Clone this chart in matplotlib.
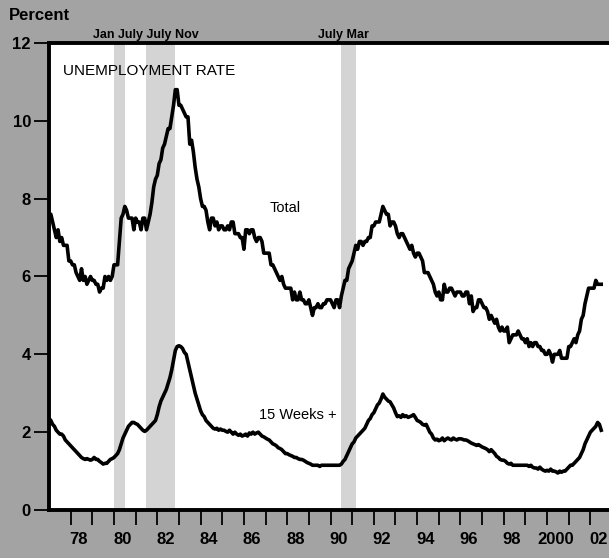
import numpy as np
import matplotlib
matplotlib.use('Agg')
import matplotlib.pyplot as plt

plt.rcParams['font.family'] = ['Liberation Sans', 'DejaVu Sans']

# Monthly unemployment rate, Jan 1977 - Jul 2002 (percent)
total = [
    7.5, 7.6, 7.4, 7.2, 7.0, 7.2, 6.9, 7.0, 6.8, 6.8, 6.8, 6.4,   # 1977
    6.4, 6.3, 6.3, 6.1, 6.0, 5.9, 6.2, 5.9, 6.0, 5.8, 5.9, 6.0,   # 1978
    5.9, 5.9, 5.8, 5.8, 5.6, 5.7, 5.7, 6.0, 5.9, 6.0, 5.9, 6.0,   # 1979
    6.3, 6.3, 6.3, 6.9, 7.5, 7.6, 7.8, 7.7, 7.5, 7.5, 7.5, 7.2,   # 1980
    7.5, 7.4, 7.4, 7.2, 7.5, 7.5, 7.2, 7.4, 7.6, 7.9, 8.3, 8.5,   # 1981
    8.6, 8.9, 9.0, 9.3, 9.4, 9.6, 9.8, 9.8, 10.1, 10.4, 10.8, 10.8,  # 1982
    10.4, 10.4, 10.3, 10.2, 10.1, 10.1, 9.4, 9.5, 9.2, 8.8, 8.5, 8.3,  # 1983
    8.0, 7.8, 7.8, 7.7, 7.4, 7.2, 7.5, 7.5, 7.3, 7.4, 7.2, 7.3,   # 1984
    7.3, 7.2, 7.2, 7.3, 7.2, 7.4, 7.4, 7.1, 7.1, 7.1, 7.0, 7.0,   # 1985
    6.7, 7.2, 7.2, 7.1, 7.2, 7.2, 7.0, 6.9, 7.0, 7.0, 6.9, 6.6,   # 1986
    6.6, 6.6, 6.6, 6.3, 6.3, 6.2, 6.1, 6.0, 5.9, 6.0, 5.8, 5.7,   # 1987
    5.7, 5.7, 5.7, 5.4, 5.6, 5.4, 5.4, 5.6, 5.4, 5.4, 5.3, 5.3,   # 1988
    5.4, 5.2, 5.0, 5.2, 5.2, 5.3, 5.2, 5.2, 5.3, 5.3, 5.4, 5.4,   # 1989
    5.4, 5.3, 5.2, 5.4, 5.4, 5.2, 5.5, 5.7, 5.9, 5.9, 6.2, 6.3,   # 1990
    6.4, 6.6, 6.8, 6.7, 6.9, 6.9, 6.8, 6.9, 6.9, 7.0, 7.0, 7.3,   # 1991
    7.3, 7.4, 7.4, 7.4, 7.6, 7.8, 7.7, 7.6, 7.6, 7.3, 7.4, 7.4,   # 1992
    7.3, 7.1, 7.0, 7.1, 7.1, 7.0, 6.9, 6.8, 6.7, 6.8, 6.6, 6.5,   # 1993
    6.6, 6.6, 6.5, 6.4, 6.1, 6.1, 6.1, 6.0, 5.9, 5.8, 5.6, 5.5,   # 1994
    5.6, 5.4, 5.4, 5.8, 5.6, 5.6, 5.7, 5.7, 5.6, 5.5, 5.6, 5.6,   # 1995
    5.6, 5.5, 5.5, 5.6, 5.6, 5.3, 5.5, 5.1, 5.2, 5.2, 5.4, 5.4,   # 1996
    5.3, 5.2, 5.2, 5.1, 4.9, 5.0, 4.9, 4.8, 4.9, 4.7, 4.6, 4.7,   # 1997
    4.6, 4.6, 4.7, 4.3, 4.4, 4.5, 4.5, 4.5, 4.6, 4.5, 4.4, 4.4,   # 1998
    4.3, 4.4, 4.2, 4.3, 4.2, 4.3, 4.3, 4.2, 4.2, 4.1, 4.1, 4.0,   # 1999
    4.0, 4.1, 4.0, 3.8, 4.0, 4.0, 4.0, 4.1, 3.9, 3.9, 3.9, 3.9,   # 2000
    4.2, 4.2, 4.3, 4.4, 4.3, 4.5, 4.6, 4.9, 5.0, 5.3, 5.5, 5.7,   # 2001
    5.7, 5.7, 5.7, 5.9, 5.8, 5.8, 5.8,                            # 2002
]

# Unemployed 15 weeks or longer, percent of labor force
weeks15 = [
    2.35, 2.3, 2.2, 2.15, 2.05, 2.0, 1.95, 1.95, 1.9, 1.8, 1.75, 1.7,
    1.65, 1.6, 1.55, 1.5, 1.45, 1.4, 1.35, 1.32, 1.3, 1.32, 1.3, 1.28,
    1.3, 1.35, 1.3, 1.3, 1.25, 1.22, 1.18, 1.2, 1.2, 1.25, 1.3, 1.32,
    1.35, 1.4, 1.45, 1.55, 1.7, 1.85, 1.95, 2.05, 2.15, 2.2, 2.25, 2.25,
    2.22, 2.2, 2.15, 2.1, 2.05, 2.02, 2.05, 2.1, 2.15, 2.2, 2.25, 2.3,
    2.45, 2.65, 2.8, 2.9, 3.0, 3.1, 3.25, 3.4, 3.6, 3.85, 4.1, 4.2,
    4.22, 4.2, 4.15, 4.05, 4.0, 3.8, 3.6, 3.4, 3.2, 3.0, 2.85, 2.7,
    2.55, 2.45, 2.4, 2.3, 2.25, 2.2, 2.15, 2.1, 2.08, 2.1, 2.05, 2.08,
    2.05, 2.05, 2.02, 2.0, 2.05, 2.0, 1.95, 2.0, 1.95, 1.92, 1.95, 1.9,
    1.92, 1.95, 1.9, 1.98, 1.95, 2.0, 1.95, 1.98, 2.0, 1.95, 1.9, 1.88,
    1.85, 1.82, 1.8, 1.75, 1.7, 1.68, 1.65, 1.6, 1.58, 1.55, 1.5, 1.45,
    1.45, 1.42, 1.4, 1.38, 1.35, 1.35, 1.32, 1.3, 1.3, 1.28, 1.25, 1.22,
    1.2, 1.18, 1.15, 1.15, 1.15, 1.15, 1.12, 1.15, 1.15, 1.15, 1.15, 1.15,
    1.15, 1.15, 1.15, 1.15, 1.15, 1.15, 1.18, 1.25, 1.3, 1.4, 1.5, 1.6,
    1.7, 1.75, 1.85, 1.9, 1.95, 2.0, 2.05, 2.1, 2.2, 2.3, 2.35, 2.45,
    2.5, 2.6, 2.7, 2.75, 2.85, 2.98, 2.9, 2.85, 2.8, 2.78, 2.7, 2.62,
    2.5, 2.4, 2.42, 2.38, 2.45, 2.4, 2.42, 2.38, 2.4, 2.42, 2.45, 2.38,
    2.3, 2.28, 2.25, 2.2, 2.18, 2.2, 2.1, 2.0, 1.95, 1.85, 1.8, 1.82,
    1.78, 1.8, 1.85, 1.78, 1.82, 1.85, 1.82, 1.8, 1.85, 1.82, 1.8, 1.83,
    1.83, 1.82, 1.8, 1.8, 1.78, 1.75, 1.72, 1.7, 1.68, 1.66, 1.68, 1.65,
    1.62, 1.6, 1.58, 1.55, 1.5, 1.55, 1.5, 1.45, 1.38, 1.35, 1.3, 1.28,
    1.28, 1.25, 1.2, 1.18, 1.2, 1.15, 1.15, 1.15, 1.15, 1.15, 1.15, 1.15,
    1.15, 1.15, 1.12, 1.15, 1.1, 1.08, 1.08, 1.05, 1.1, 1.05, 1.02, 1.0,
    1.02, 1.0, 1.05, 1.0, 1.0, 0.98, 0.95, 1.0, 0.97, 1.0, 1.0, 1.05,
    1.1, 1.15, 1.15, 1.2, 1.25, 1.3, 1.35, 1.45, 1.55, 1.7, 1.8, 1.9,
    2.0, 2.05, 2.1, 2.15, 2.25, 2.2, 2.05,
]

# Recessions (start, end) in fractional years
recessions = [(1980.0, 1980.5), (1981.5, 1982.83), (1990.5, 1991.17)]
year_labels = ['78', '80', '82', '84', '86', '88', '90', '92', '94', '96', '98', '2000', '02']
year_label_pos = [1978.38 + 2 * i for i in range(len(year_labels))]

months = 1977 + np.arange(len(total)) / 12.0

fig = plt.figure(figsize=(6.09, 5.58), dpi=100, facecolor='#a3a3a3')
ax = fig.add_axes([0.0805, 0.086, 0.9245, 0.837])
ax.set_facecolor('white')

for start, end in recessions:
    ax.axvspan(start, end, color='#d4d4d4', lw=0, zorder=1)

ax.plot(months, total, color='black', lw=2.6, zorder=3)
ax.plot(months, weeks15, color='black', lw=2.6, zorder=3)

ax.set_xlim(1977, 2003.0)
ax.set_ylim(0, 12)

for side in ['left', 'bottom', 'top']:
    ax.spines[side].set_linewidth(2.8)
ax.spines['right'].set_visible(False)

# year ticks on January, labels in the middle of the year
ax.set_xticks(np.arange(1978, 2003))
ax.set_xticklabels([])
ax.tick_params(axis='x', which='major', direction='out', length=11, width=1.3)
ax.set_xticks(year_label_pos, minor=True)
ax.set_xticklabels(year_labels, minor=True, fontsize=12, fontweight='bold')
ax.tick_params(axis='x', which='minor', length=0, pad=16)

ax.set_yticks([0, 2, 4, 6, 8, 10, 12])
ax.set_yticklabels(['0', '2', '4', '6', '8', '10', '12'], fontsize=12, fontweight='bold')
ax.tick_params(axis='y', direction='out', length=11, width=1.3, pad=2)

ax.text(0.025, 0.94, 'UNEMPLOYMENT RATE', transform=ax.transAxes, fontsize=11, va='center')
ax.text(1987.2, 7.75, 'Total', fontsize=10.5, va='center')
ax.text(1986.7, 2.45, '15 Weeks +', fontsize=10.5, va='center')

fig.text(0.014, 0.972, 'Percent', fontsize=12, fontweight='bold', va='center')
ax.text(1979.05, 12.05, 'Jan July July Nov', fontsize=9, fontweight='bold', va='bottom')
ax.text(1989.4, 12.05, 'July Mar', fontsize=9, fontweight='bold', va='bottom')

plt.savefig('out.png', dpi=100, facecolor=fig.get_facecolor())
